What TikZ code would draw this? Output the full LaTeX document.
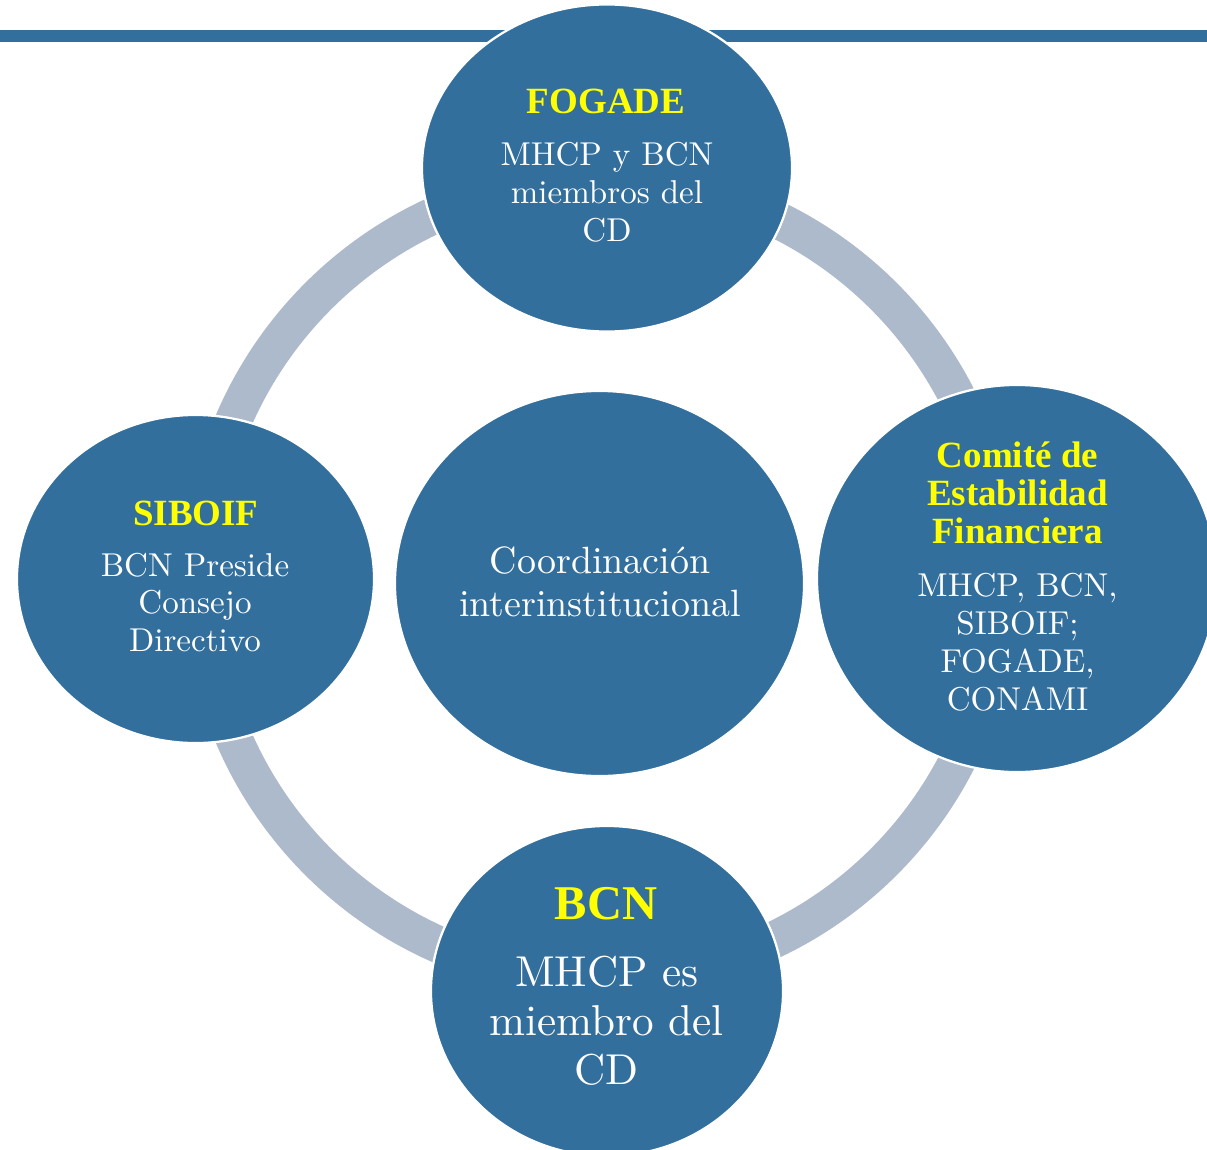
\documentclass[tikz,border=0pt]{standalone}
\usepackage{fontspec}
\setmainfont{lmroman10-regular}[Extension=.otf]
\newfontfamily\headfont{Liberation Serif}
\usetikzlibrary{shapes.geometric}
\definecolor{bubblue}{HTML}{336F9C}
\definecolor{ringgray}{HTML}{ADBACB}
\definecolor{headyellow}{HTML}{FFFF00}
\tikzset{
  bubble/.style={ellipse, fill=bubblue, draw=white, line width=1.6pt, inner sep=0pt},
  headtext/.style={text=headyellow, inner sep=0pt, align=center,
    font=\headfont\bfseries\fontsize{26.3}{26.7}\selectfont},
  bodytext/.style={text=white, inner sep=0pt, align=center,
    font=\fontsize{23.5}{26.8}\selectfont},
}
\begin{document}
\begin{tikzpicture}[x=0.025cm, y=-0.025cm]
\useasboundingbox (0,0) rectangle (1207,1149);
\clip (0,0) rectangle (1207,1149);
% top rule
\fill[bubblue] (0,30) rectangle (1207,42);
% ring
\draw[ringgray, line width=26.3pt] (601,579) circle [radius=400];
% bubbles
\node[bubble, minimum width=9.25cm, minimum height=8.175cm] (fogade) at (607,168) {};
\node[bubble, minimum width=8.925cm, minimum height=8.2cm] (siboif) at (195.5,579) {};
\node[bubble, minimum width=10.225cm, minimum height=9.625cm] (coord) at (599.5,583.5) {};
\node[bubble, minimum width=10cm, minimum height=9.675cm] (comite) at (1017,578.5) {};
\node[bubble, minimum width=8.8cm, minimum height=8.25cm] (bcn) at (607,991) {};
% texts
\node[headtext, anchor=base] (fogadeT) at (606,113.3) {FOGADE};
\node[bodytext, anchor=north] (fogadeB) at (607,142.4) {MHCP y BCN\\miembros del\\CD};
\node[headtext, anchor=base] (siboifT) at (195.8,525) {SIBOIF};
\node[bodytext, anchor=north] (siboifB) at (195,552.7) {BCN Preside\\Consejo\\Directivo};
\node[headtext, anchor=north] (comiteT) at (1017.5,442) {Comité de\\Estabilidad\\Financiera};
\node[bodytext, anchor=north] (comiteB) at (1017.5,573.4) {MHCP, BCN,\\SIBOIF;\\FOGADE,\\CONAMI};
\node[text=white, inner sep=0pt, align=center, font=\fontsize{27}{30.4}\selectfont, anchor=north] (coordT) at (600,546.5) {Coordinación\\interinstitucional};
\node[headtext, anchor=base, font=\headfont\bfseries\fontsize{34.5}{36}\selectfont] (bcnT) at (606.2,919.3) {BCN};
\node[bodytext, anchor=north, font=\fontsize{30.7}{34.6}\selectfont] (bcnB) at (606.7,956.2) {MHCP es\\miembro del\\CD};
\end{tikzpicture}
\end{document}
